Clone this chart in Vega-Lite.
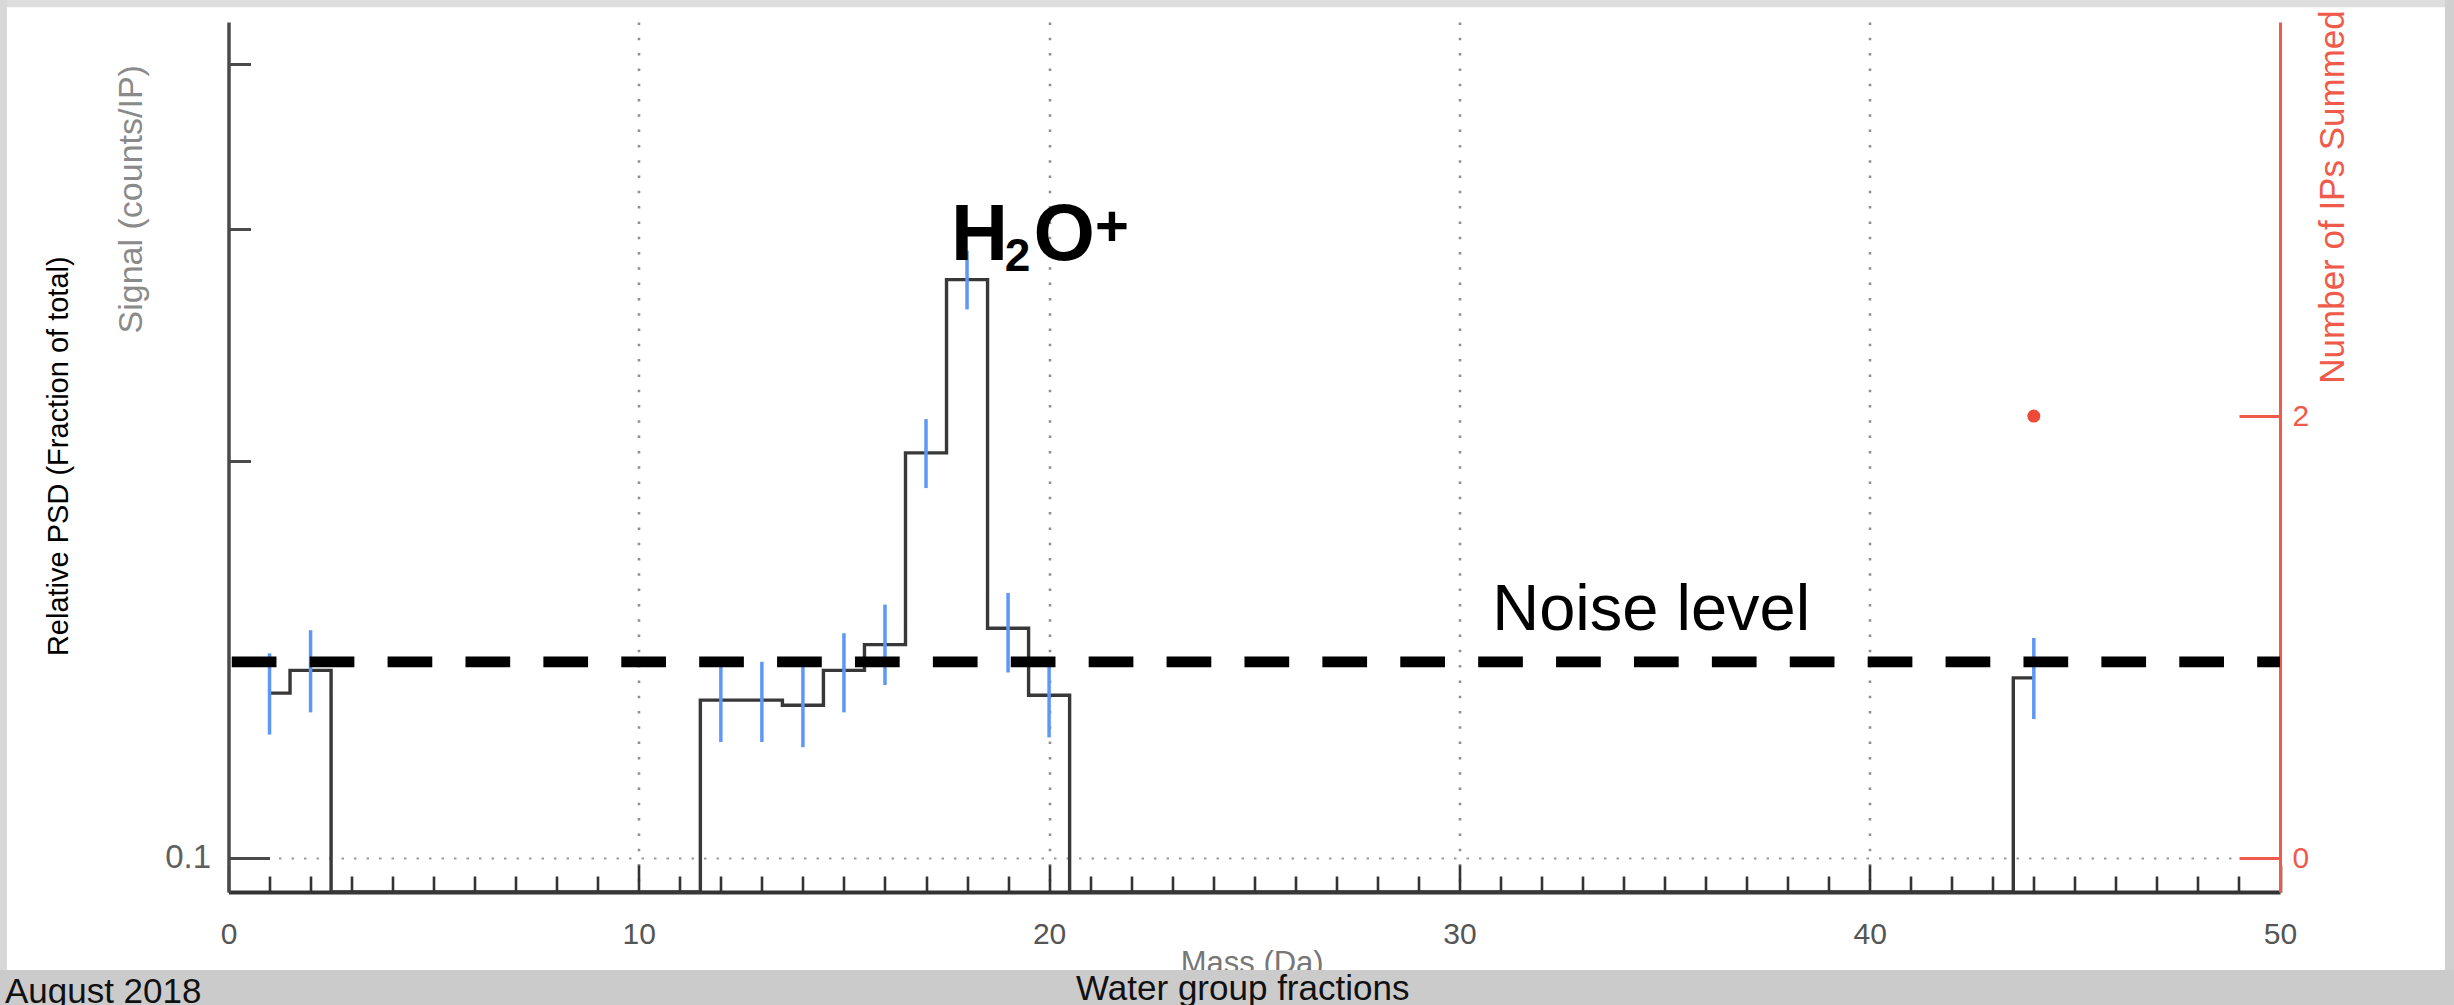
{
  "$schema": "https://vega.github.io/schema/vega-lite/v6.json",
  "autosize": {"type": "none"},
  "width": 2051.5,
  "height": 870,
  "padding": {"left": 228.5, "top": 22, "right": 174, "bottom": 113},
  "background": "#ffffff",
  "config": {
    "view": {"stroke": null},
    "font": "Liberation Sans",
    "scale": {"invalid": {"y": {"value": {"expr": "height"}}}},
    "axis": {"labelFont": "Liberation Sans", "titleFont": "Liberation Sans", "titleFontWeight": "normal"}
  },
  "datasets": {
    "spectrum": [
      {"mass": 1, "signal": 0.1333, "lo": 0.1240, "hi": 0.1429},
      {"mass": 2, "signal": 0.1387, "lo": 0.1289, "hi": 0.1488},
      {"mass": 3, "signal": 0, "lo": null, "hi": null},
      {"mass": 4, "signal": 0, "lo": null, "hi": null},
      {"mass": 5, "signal": 0, "lo": null, "hi": null},
      {"mass": 6, "signal": 0, "lo": null, "hi": null},
      {"mass": 7, "signal": 0, "lo": null, "hi": null},
      {"mass": 8, "signal": 0, "lo": null, "hi": null},
      {"mass": 9, "signal": 0, "lo": null, "hi": null},
      {"mass": 10, "signal": 0, "lo": null, "hi": null},
      {"mass": 11, "signal": 0, "lo": null, "hi": null},
      {"mass": 12, "signal": 0.1317, "lo": 0.1224, "hi": 0.1396},
      {"mass": 13, "signal": 0.1317, "lo": 0.1224, "hi": 0.1408},
      {"mass": 14, "signal": 0.1305, "lo": 0.1213, "hi": 0.1396},
      {"mass": 15, "signal": 0.1387, "lo": 0.1289, "hi": 0.1480},
      {"mass": 16, "signal": 0.1451, "lo": 0.1352, "hi": 0.1556},
      {"mass": 17, "signal": 0.2028, "lo": 0.1907, "hi": 0.2151},
      {"mass": 18, "signal": 0.2744, "lo": 0.2605, "hi": 0.2886},
      {"mass": 19, "signal": 0.1493, "lo": 0.1382, "hi": 0.1588},
      {"mass": 20, "signal": 0.1328, "lo": 0.1234, "hi": 0.1420},
      {"mass": 21, "signal": 0, "lo": null, "hi": null},
      {"mass": 22, "signal": 0, "lo": null, "hi": null},
      {"mass": 23, "signal": 0, "lo": null, "hi": null},
      {"mass": 24, "signal": 0, "lo": null, "hi": null},
      {"mass": 25, "signal": 0, "lo": null, "hi": null},
      {"mass": 26, "signal": 0, "lo": null, "hi": null},
      {"mass": 27, "signal": 0, "lo": null, "hi": null},
      {"mass": 28, "signal": 0, "lo": null, "hi": null},
      {"mass": 29, "signal": 0, "lo": null, "hi": null},
      {"mass": 30, "signal": 0, "lo": null, "hi": null},
      {"mass": 31, "signal": 0, "lo": null, "hi": null},
      {"mass": 32, "signal": 0, "lo": null, "hi": null},
      {"mass": 33, "signal": 0, "lo": null, "hi": null},
      {"mass": 34, "signal": 0, "lo": null, "hi": null},
      {"mass": 35, "signal": 0, "lo": null, "hi": null},
      {"mass": 36, "signal": 0, "lo": null, "hi": null},
      {"mass": 37, "signal": 0, "lo": null, "hi": null},
      {"mass": 38, "signal": 0, "lo": null, "hi": null},
      {"mass": 39, "signal": 0, "lo": null, "hi": null},
      {"mass": 40, "signal": 0, "lo": null, "hi": null},
      {"mass": 41, "signal": 0, "lo": null, "hi": null},
      {"mass": 42, "signal": 0, "lo": null, "hi": null},
      {"mass": 43, "signal": 0, "lo": null, "hi": null},
      {"mass": 44, "signal": 0.1369, "lo": 0.1274, "hi": 0.1468}
    ],
    "summed": [
      {"mass": 44, "ips": 2}
    ]
  },
  "resolve": {"scale": {"y": "independent"}},
  "layer": [
    {
      "layer": [
        {
          "data": {"name": "spectrum"},
          "mark": {"type": "line", "interpolate": "step", "color": "#383838", "strokeWidth": 3.4, "invalid": "show"},
          "encoding": {
            "x": {
              "field": "mass", "type": "quantitative",
              "scale": {"domain": [0, 50], "nice": false, "zero": false},
              "axis": {
                "values": [0,1,2,3,4,5,6,7,8,9,10,11,12,13,14,15,16,17,18,19,20,21,22,23,24,25,26,27,28,29,30,31,32,33,34,35,36,37,38,39,40,41,42,43,44,45,46,47,48,49,50],
                "labelExpr": "datum.value % 10 === 0 ? datum.label : ''",
                "labelOverlap": false,
                "labelFlush": false,
                "tickSize": {"condition": {"test": "datum.value % 10 === 0", "value": -27}, "value": -16},
                "tickWidth": 2.6,
                "tickColor": "#333333",
                "domainColor": "#333333",
                "domainWidth": 4,
                "labelColor": "#555555",
                "labelFontSize": 30,
                "labelPadding": 54,
                "grid": true,
                "gridColor": "#8f8f8f",
                "gridWidth": 2.6,
                "gridDash": [2.5, 12.8],
                "gridOpacity": {"condition": {"test": "datum.value % 10 === 0 && datum.value > 0 && datum.value < 50", "value": 1}, "value": 0},
                "title": null
              }
            },
            "y": {
              "field": "signal", "type": "quantitative",
              "scale": {"type": "log", "domain": [0.0942, 0.4303], "nice": false, "clamp": true},
              "axis": {
                "orient": "left",
                "values": [0.1, 0.2, 0.3, 0.4],
                "labelExpr": "datum.value == 0.1 ? '0.1' : ''",
                "labelOverlap": false,
                "tickSize": {"condition": {"test": "datum.value < 0.15", "value": -41}, "value": -22},
                "tickWidth": 3,
                "tickColor": "#4a4a4a",
                "domainColor": "#4a4a4a",
                "domainWidth": 3.5,
                "labelColor": "#5f5f5f",
                "labelFontSize": 33,
                "labelPadding": 59,
                "grid": true,
                "gridColor": "#9a9a9a",
                "gridWidth": 2.2,
                "gridDash": [2.5, 10],
                "gridOpacity": {"condition": {"test": "datum.value < 0.15", "value": 1}, "value": 0},
                "title": "Signal (counts/IP)",
                "titleColor": "#8a8a8a",
                "titleFontSize": 34,
                "titleAngle": 270,
                "titleAlign": "center",
                "titleBaseline": "middle",
                "titleX": -96.8,
                "titleY": 176.8
              }
            }
          }
        },
        {
          "data": {"name": "spectrum"},
          "mark": {"type": "rule", "color": "#5e97f6", "strokeWidth": 3.5},
          "encoding": {
            "x": {"field": "mass", "type": "quantitative", "scale": {"domain": [0, 50], "nice": false, "zero": false}},
            "y": {"field": "lo", "type": "quantitative", "scale": {"type": "log", "domain": [0.0942, 0.4303], "nice": false, "clamp": true}},
            "y2": {"field": "hi"}
          }
        },
        {
          "data": {"values": [{}]},
          "mark": {"type": "rule", "color": "#000000", "strokeWidth": 10.7, "strokeDash": [44.7, 33.2], "strokeCap": "butt"},
          "encoding": {
            "x": {"datum": 0.08, "type": "quantitative", "scale": {"domain": [0, 50], "nice": false, "zero": false}},
            "x2": {"datum": 50},
            "y": {"datum": 0.1408, "type": "quantitative", "scale": {"type": "log", "domain": [0.0942, 0.4303], "nice": false, "clamp": true}}
          }
        },
        {
          "data": {"values": [{}]},
          "mark": {"type": "text", "text": "Noise level", "fontSize": 65, "align": "left", "baseline": "alphabetic", "color": "#000000", "font": "Liberation Sans"},
          "encoding": {
            "x": {"datum": 30.80, "type": "quantitative", "scale": {"domain": [0, 50], "nice": false, "zero": false}},
            "y": {"datum": 0.1489, "type": "quantitative", "scale": {"type": "log", "domain": [0.0942, 0.4303], "nice": false, "clamp": true}}
          }
        },
        {
          "data": {"values": [{}]},
          "mark": {"type": "text", "text": "H", "fontSize": 79, "fontWeight": "bold", "align": "left", "baseline": "alphabetic", "color": "#000000", "font": "Liberation Sans"},
          "encoding": {
            "x": {"datum": 17.61, "type": "quantitative", "scale": {"domain": [0, 50], "nice": false, "zero": false}},
            "y": {"datum": 0.2838, "type": "quantitative", "scale": {"type": "log", "domain": [0.0942, 0.4303], "nice": false, "clamp": true}}
          }
        },
        {
          "data": {"values": [{}]},
          "mark": {"type": "text", "text": "2", "fontSize": 46, "fontWeight": "bold", "align": "left", "baseline": "alphabetic", "color": "#000000", "font": "Liberation Sans"},
          "encoding": {
            "x": {"datum": 18.92, "type": "quantitative", "scale": {"domain": [0, 50], "nice": false, "zero": false}},
            "y": {"datum": 0.2788, "type": "quantitative", "scale": {"type": "log", "domain": [0.0942, 0.4303], "nice": false, "clamp": true}}
          }
        },
        {
          "data": {"values": [{}]},
          "mark": {"type": "text", "text": "O", "fontSize": 79, "fontWeight": "bold", "align": "left", "baseline": "alphabetic", "color": "#000000", "font": "Liberation Sans"},
          "encoding": {
            "x": {"datum": 19.62, "type": "quantitative", "scale": {"domain": [0, 50], "nice": false, "zero": false}},
            "y": {"datum": 0.2838, "type": "quantitative", "scale": {"type": "log", "domain": [0.0942, 0.4303], "nice": false, "clamp": true}}
          }
        },
        {
          "data": {"values": [{}]},
          "mark": {"type": "text", "text": "+", "fontSize": 58, "fontWeight": "bold", "align": "left", "baseline": "alphabetic", "color": "#000000", "font": "Liberation Sans"},
          "encoding": {
            "x": {"datum": 21.12, "type": "quantitative", "scale": {"domain": [0, 50], "nice": false, "zero": false}},
            "y": {"datum": 0.2911, "type": "quantitative", "scale": {"type": "log", "domain": [0.0942, 0.4303], "nice": false, "clamp": true}}
          }
        },
        {
          "data": {"values": [{}]},
          "mark": {"type": "text", "text": "Relative PSD (Fraction of total)", "fontSize": 29, "angle": 270, "align": "center", "baseline": "middle", "color": "#000000", "font": "Liberation Sans"},
          "encoding": {
            "x": {"datum": -4.13, "type": "quantitative", "scale": {"domain": [0, 50], "nice": false, "zero": false}},
            "y": {"datum": 0.2016, "type": "quantitative", "scale": {"type": "log", "domain": [0.0942, 0.4303], "nice": false, "clamp": true}}
          }
        }
      ]
    },
    {
      "layer": [
        {
          "data": {"name": "summed"},
          "mark": {"type": "circle", "color": "#ee4a3a", "size": 170, "opacity": 1},
          "encoding": {
            "x": {"field": "mass", "type": "quantitative", "scale": {"domain": [0, 50], "nice": false, "zero": false}},
            "y": {
              "field": "ips", "type": "quantitative",
              "scale": {"domain": [-0.1538, 3.783], "nice": false, "zero": false},
              "axis": {
                "orient": "right",
                "values": [0, 2],
                "format": "d",
                "tickSize": -41,
                "tickWidth": 3,
                "tickColor": "#ef5a4a",
                "domainColor": "#ef5a4a",
                "domainWidth": 3,
                "labelColor": "#ef5a4a",
                "labelFontSize": 30,
                "labelPadding": 53,
                "grid": false,
                "title": "Number of IPs Summed",
                "titleColor": "#ef5a4a",
                "titleFontSize": 35,
                "titleAngle": 270,
                "titleAlign": "center",
                "titleBaseline": "middle",
                "titleX": 52,
                "titleY": 174.5
              }
            }
          }
        },
        {
          "data": {"values": [{}]},
          "mark": {"type": "text", "text": "Mass (Da)", "fontSize": 31, "align": "center", "baseline": "alphabetic", "color": "#777777", "font": "Liberation Sans"},
          "encoding": {
            "x": {"datum": 24.95, "type": "quantitative", "scale": {"domain": [0, 50], "nice": false, "zero": false}},
            "y": {"datum": -0.520, "type": "quantitative", "scale": {"domain": [-0.1538, 3.783], "nice": false, "zero": false}}
          }
        },
        {
          "data": {"values": [{}]},
          "mark": {"type": "rect", "fill": "#cbcbcb"},
          "encoding": {
            "x": {"datum": -6, "type": "quantitative", "scale": {"domain": [0, 50], "nice": false, "zero": false}},
            "x2": {"datum": 57},
            "y": {"datum": -0.5068, "type": "quantitative", "scale": {"domain": [-0.1538, 3.783], "nice": false, "zero": false}},
            "y2": {"datum": -0.75}
          }
        },
        {
          "data": {"values": [{}]},
          "mark": {"type": "rect", "fill": "#dedede"},
          "encoding": {
            "x": {"datum": -6, "type": "quantitative", "scale": {"domain": [0, 50], "nice": false, "zero": false}},
            "x2": {"datum": 57},
            "y": {"datum": 3.85, "type": "quantitative", "scale": {"domain": [-0.1538, 3.783], "nice": false, "zero": false}},
            "y2": {"datum": 4.0}
          }
        },
        {
          "data": {"values": [{}]},
          "mark": {"type": "rect", "fill": "#d8d8d8"},
          "encoding": {
            "x": {"datum": -6, "type": "quantitative", "scale": {"domain": [0, 50], "nice": false, "zero": false}},
            "x2": {"datum": -5.4},
            "y": {"datum": 4.0, "type": "quantitative", "scale": {"domain": [-0.1538, 3.783], "nice": false, "zero": false}},
            "y2": {"datum": -0.5068}
          }
        },
        {
          "data": {"values": [{}]},
          "mark": {"type": "rect", "fill": "#d0d0d0"},
          "encoding": {
            "x": {"datum": 54.02, "type": "quantitative", "scale": {"domain": [0, 50], "nice": false, "zero": false}},
            "x2": {"datum": 57},
            "y": {"datum": 4.0, "type": "quantitative", "scale": {"domain": [-0.1538, 3.783], "nice": false, "zero": false}},
            "y2": {"datum": -0.5068}
          }
        },
        {
          "data": {"values": [{}]},
          "mark": {"type": "text", "text": "August 2018", "fontSize": 35, "align": "left", "baseline": "alphabetic", "color": "#111111", "font": "Liberation Sans"},
          "encoding": {
            "x": {"datum": -5.449, "type": "quantitative", "scale": {"domain": [0, 50], "nice": false, "zero": false}},
            "y": {"datum": -0.656, "type": "quantitative", "scale": {"domain": [-0.1538, 3.783], "nice": false, "zero": false}}
          }
        },
        {
          "data": {"values": [{}]},
          "mark": {"type": "text", "text": "Water group fractions", "fontSize": 35, "align": "center", "baseline": "alphabetic", "color": "#111111", "font": "Liberation Sans"},
          "encoding": {
            "x": {"datum": 24.72, "type": "quantitative", "scale": {"domain": [0, 50], "nice": false, "zero": false}},
            "y": {"datum": -0.643, "type": "quantitative", "scale": {"domain": [-0.1538, 3.783], "nice": false, "zero": false}}
          }
        }
      ]
    }
  ]
}
